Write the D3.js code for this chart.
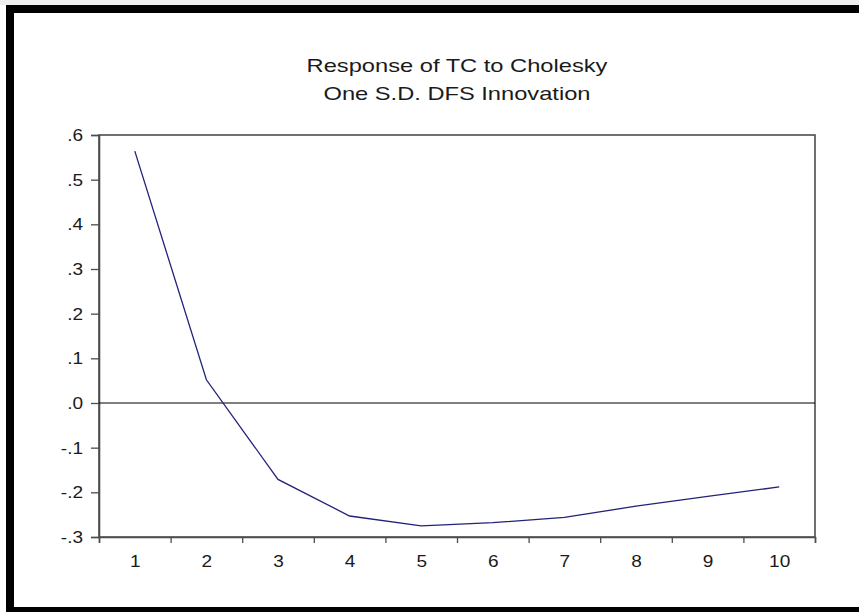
<!DOCTYPE html>
<html>
<head>
<meta charset="utf-8">
<script src="https://cdn.jsdelivr.net/npm/d3@7"></script>
<style>
  body { margin: 0; background: #fff; }
  text { font-family: "Liberation Sans", Arial, sans-serif; fill: #1a1a1a; }
</style>
</head>
<body>
<svg id="chart" width="859" height="612"></svg>
<script>
// Impulse response: periods and response values
const periods = [1, 2, 3, 4, 5, 6, 7, 8, 9, 10];
const response = [0.564, 0.052, -0.171, -0.253, -0.275, -0.268, -0.256, -0.231, -0.209, -0.188];
const yTicks = [0.6, 0.5, 0.4, 0.3, 0.2, 0.1, 0, -0.1, -0.2, -0.3];
const yTickLabels = [".6", ".5", ".4", ".3", ".2", ".1", ".0", "-.1", "-.2", "-.3"];
const titleLines = ["Response of TC to Cholesky", "One S.D. DFS Innovation"];

const TITLE_SX = 1.28; // horizontal stretch of the title lettering
const TICK_SX = 1.12;  // horizontal stretch of the tick lettering
const svg = d3.select("#chart");

// page frame
svg.append("rect").attr("x", 0).attr("y", 0).attr("width", 859).attr("height", 5).attr("fill", "#eeeeee");
svg.append("rect").attr("x", 6).attr("y", 5).attr("width", 853).attr("height", 8).attr("fill", "#000");
svg.append("rect").attr("x", 6).attr("y", 5).attr("width", 8).attr("height", 607).attr("fill", "#000");
svg.append("rect").attr("x", 6).attr("y", 607).attr("width", 853).attr("height", 5).attr("fill", "#000");

const plotLeft = 99, plotRight = 815, plotTop = 135, plotBottom = 537;
const x = d3.scaleLinear().domain([0.5, 10.5]).range([plotLeft, plotRight]);
const y = d3.scaleLinear().domain([-0.3, 0.6]).range([plotBottom, plotTop]);

// title
const title = svg.append("g");
titleLines.forEach((t, i) => {
  title.append("text")
    .attr("transform", `translate(${(plotLeft + plotRight) / 2},${71.5 + i * 28.5}) scale(${TITLE_SX},1)`)
    .attr("text-anchor", "middle")
    .attr("font-size", 18.5)
    .text(t);
});

// plot box
svg.append("rect")
  .attr("x", plotLeft).attr("y", plotTop)
  .attr("width", plotRight - plotLeft).attr("height", plotBottom - plotTop)
  .attr("fill", "none").attr("stroke", "#4d4d4d").attr("stroke-width", 1.6);

// y axis
const yAxis = svg.append("g")
  .attr("transform", `translate(${plotLeft},0)`)
  .call(d3.axisLeft(y).tickValues(yTicks).tickSize(8)
    .tickFormat((d, i) => yTickLabels[i]));
yAxis.select(".domain").attr("stroke", "#4d4d4d").attr("stroke-width", 1.6);
yAxis.selectAll(".tick line").attr("stroke", "#4d4d4d").attr("stroke-width", 1.3);
yAxis.selectAll(".tick text")
  .attr("x", -16 / TICK_SX)
  .attr("transform", `scale(${TICK_SX},1)`)
  .attr("font-size", 17)
  .attr("fill", "#1a1a1a");

// x axis: ticks on period boundaries, labels at period centres
const boundaries = d3.range(0.5, 11, 1);
const xTicks = svg.append("g")
  .attr("transform", `translate(0,${plotBottom})`)
  .call(d3.axisBottom(x).tickValues(boundaries).tickSize(6).tickFormat(""));
xTicks.select(".domain").attr("stroke", "#4d4d4d").attr("stroke-width", 1.6);
xTicks.selectAll(".tick line").attr("stroke", "#4d4d4d").attr("stroke-width", 1.3);

const xLabels = svg.append("g")
  .attr("transform", `translate(0,${plotBottom})`)
  .call(d3.axisBottom(x).tickValues(periods).tickSize(0).tickPadding(0)
    .tickFormat(d3.format("d")));
xLabels.select(".domain").remove();
xLabels.selectAll(".tick text")
  .attr("y", 30).attr("dy", 0)
  .attr("transform", `scale(${TICK_SX},1)`)
  .attr("font-size", 17)
  .attr("fill", "#1a1a1a");

// zero line
svg.append("line")
  .attr("x1", plotLeft).attr("x2", plotRight)
  .attr("y1", y(0)).attr("y2", y(0))
  .attr("stroke", "#000").attr("stroke-width", 1.2);

// response line
const line = d3.line().x((d, i) => x(periods[i])).y(d => y(d));
svg.append("path")
  .datum(response)
  .attr("d", line)
  .attr("fill", "none")
  .attr("stroke", "#22227a")
  .attr("stroke-width", 1.3);
</script>
</body>
</html>
